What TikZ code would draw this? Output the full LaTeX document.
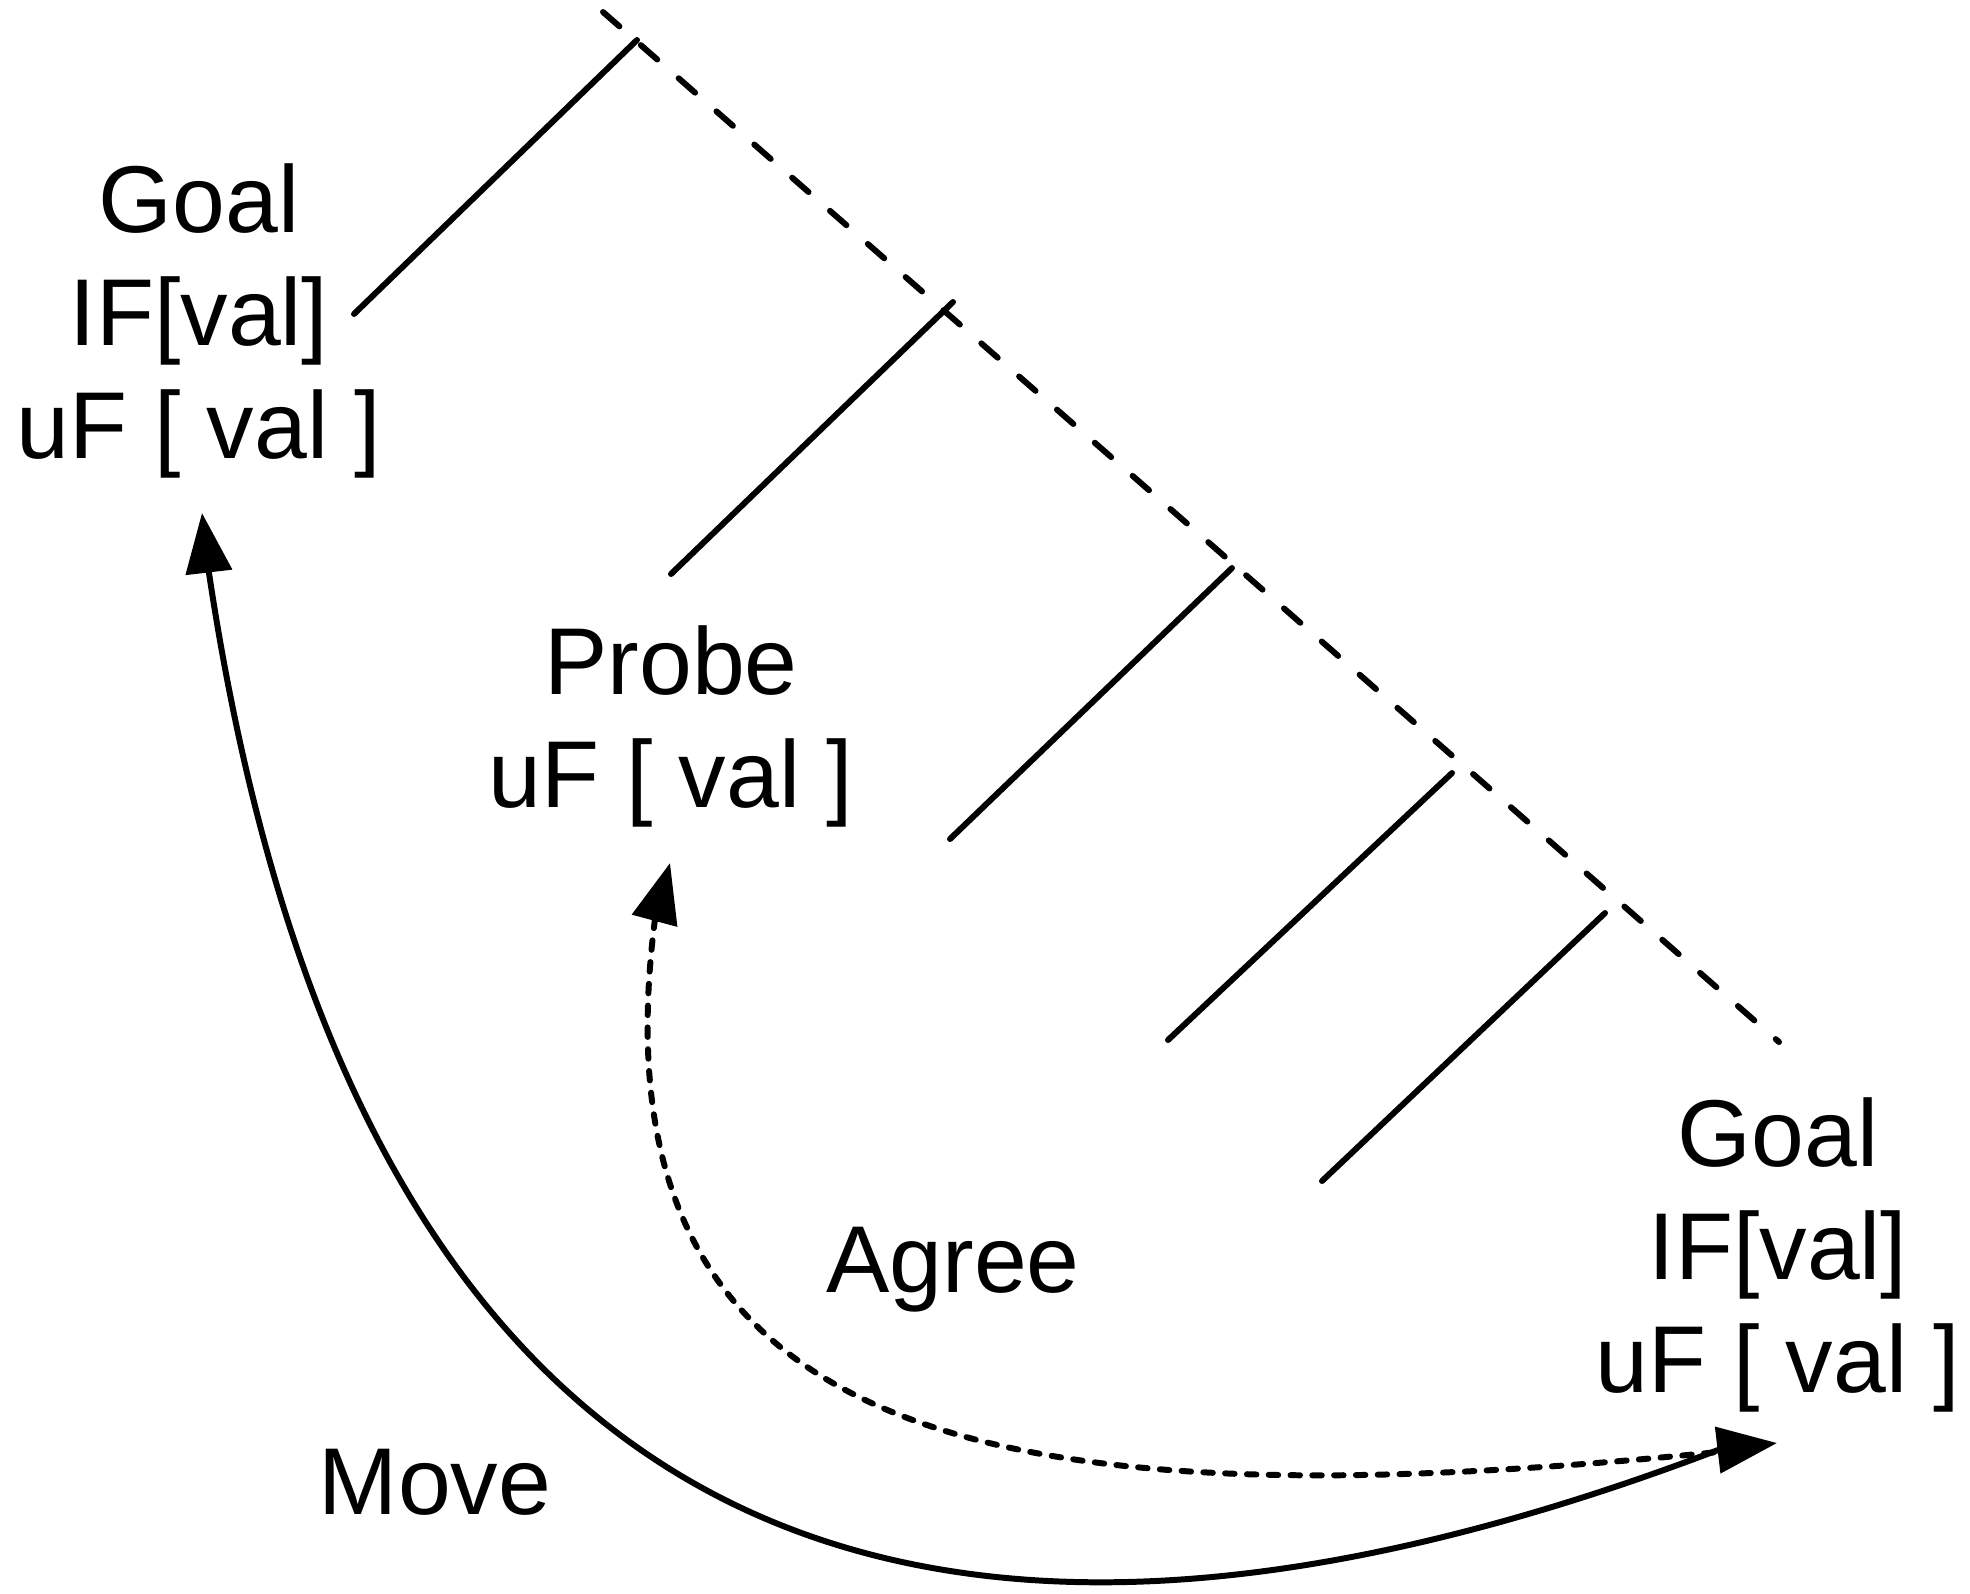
\documentclass[tikz,border=0pt]{standalone}
\usepackage{fontspec}
\setmainfont{Liberation Sans}
\usetikzlibrary{arrows.meta}
\begin{document}
\begin{tikzpicture}[x=0.01cm,y=-0.01cm,
  lbl/.style={font=\fontsize{27pt}{32pt}\selectfont, align=center, inner sep=0pt, anchor=base},
  branch/.style={line width=1.7pt, line cap=round},
  spine/.style={line width=1.7pt, dash pattern=on 6.2pt off 8.1pt, line cap=round},
  movearrow/.style={line width=1.7pt, {Triangle[length=17pt,width=13pt]}-{Triangle[length=17pt,width=13pt]}},
  agreearrow/.style={line width=1.7pt, dash pattern=on 2.7pt off 3.5pt, line cap=round, {Triangle[length=17pt,width=13pt]}-}]
\useasboundingbox (0,0) rectangle (1970,1593);

% text nodes (anchor = baseline of last line)
\node[lbl] (goalL) at (199,458) {Goal\\IF[val]\\uF [ val ]};
\node[lbl] (probe) at (671,807) {Probe\\uF [ val ]};
\node[lbl] (goalR) at (1778,1392) {Goal\\IF[val]\\uF [ val ]};
\node[lbl] (agree) at (953,1292) {Agree};
\node[lbl] (move)  at (435,1514) {Move};

% spine (dashed)
\coordinate (sT) at (603,12);
\coordinate (sB) at (1779,1042);
\draw[spine] (sT) -- (sB);

% branches
\coordinate (b1a) at (637,40);   \coordinate (b1b) at (354,314);
\coordinate (b2a) at (953,302);  \coordinate (b2b) at (671,574);
\coordinate (b3a) at (1232,568); \coordinate (b3b) at (950,839);
\coordinate (b4a) at (1452,773); \coordinate (b4b) at (1168,1040);
\coordinate (b5a) at (1605,913); \coordinate (b5b) at (1322,1181);
\draw[branch] (b1a) -- (b1b);
\draw[branch] (b2a) -- (b2b);
\draw[branch] (b3a) -- (b3b);
\draw[branch] (b4a) -- (b4b);
\draw[branch] (b5a) -- (b5b);

% arrow end points
\coordinate (mvA) at (202,513);
\coordinate (mvB) at (1777,1443);
\coordinate (agA) at (670,863);

% Agree (dashed)
\draw[agreearrow] (agA) -- (655,919) .. controls (585,1459) and (1018,1522) .. (1718,1452);

% Move (solid)
\draw[movearrow] (mvA) -- (209,573) .. controls (332,1393) and (758,1815) .. (1718,1450) -- (mvB);
\end{tikzpicture}
\end{document}
